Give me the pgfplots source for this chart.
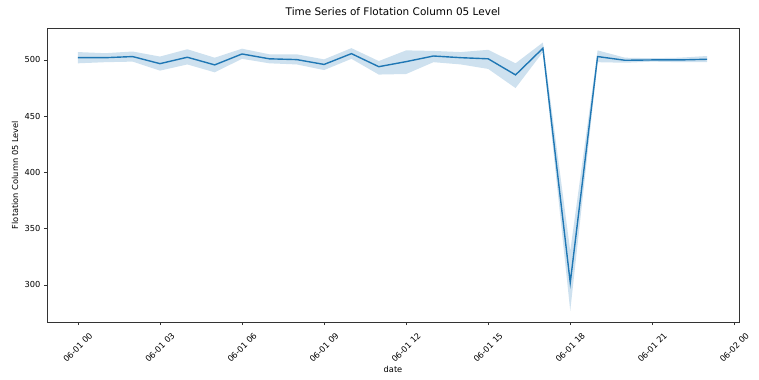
\documentclass[border=0pt]{standalone}
\usepackage{pgfplots}
\pgfplotsset{compat=1.18}
\usepackage{pgfplotstable}
\usepgfplotslibrary{fillbetween}
\usepackage{fontspec}
\setmainfont{DejaVu Sans}
\definecolor{tabblue}{HTML}{1F77B4}
\pgfplotstableread{
h mean lo hi
0 502 497 507
1 502 498 506
2 503 498.5 507.5
3 496.7 490.5 503
4 502.4 496 509.5
5 495.6 489 502
6 505.3 501 510
7 501 497 505
8 500.3 496 505
9 496 491 500.5
10 505.6 501 510.5
11 494 487 499
12 498.5 487.5 508.5
13 503.5 498 508
14 502 496 507
15 501 492 509
16 486.7 475 497
17 510.4 507 515.5
18 302 277 330
19 503 498 508.5
20 499.7 497.5 502
21 500 498.5 501.5
22 500 498 502
23 500.6 498 503.5
}\data
\begin{document}
\begin{tikzpicture}[x=1bp,y=1bp]
\begin{axis}[
  at={(0,0)}, anchor=south west,
  scale only axis,
  width=692bp, height=294bp,
  xmin=-1.13, xmax=24.17,
  ymin=267, ymax=528.4,
  xtick={0,3,6,9,12,15,18,21,24},
  xticklabels={06-01 00,06-01 03,06-01 06,06-01 09,06-01 12,06-01 15,06-01 18,06-01 21,06-02 00},
  ytick={300,350,400,450,500},
  tick align=outside,
  major tick length=3bp,
  tick style={black!80, line width=0.5pt},
  xtick pos=bottom, ytick pos=left,
  axis line style={black!80, line width=0.6pt},
  ticklabel style={font=\fontsize{8.3}{9}\selectfont},
  /pgf/number format/assume math mode=true,
  xticklabel style={rotate=45, anchor=center, xshift=-15.9bp, yshift=-15.9bp},
  xlabel={date},
  ylabel={Flotation Column 05 Level},
  label style={font=\fontsize{8.3}{9}\selectfont},
  xlabel style={at={(axis description cs:0.5,0)}, anchor=center, yshift=-47bp},
  ylabel style={at={(axis description cs:0,0.5)}, anchor=center, yshift=32bp},
  title={Time Series of Flotation Column 05 Level},
  title style={font=\fontsize{10.5}{11}\selectfont, at={(axis description cs:0.5,1)}, anchor=center, yshift=10bp},
]
\addplot[name path=up, draw=none, forget plot] table[x=h, y=hi] {\data};
\addplot[name path=dn, draw=none, forget plot] table[x=h, y=lo] {\data};
\addplot[fill=tabblue, fill opacity=0.22, draw=none] fill between[of=up and dn];
\addplot[tabblue, line width=1.4bp, no marks] table[x=h, y=mean] {\data};
\end{axis}
\pgfresetboundingbox
\path[use as bounding box] (-47,-57) rectangle (712,322);
\end{tikzpicture}
\end{document}
